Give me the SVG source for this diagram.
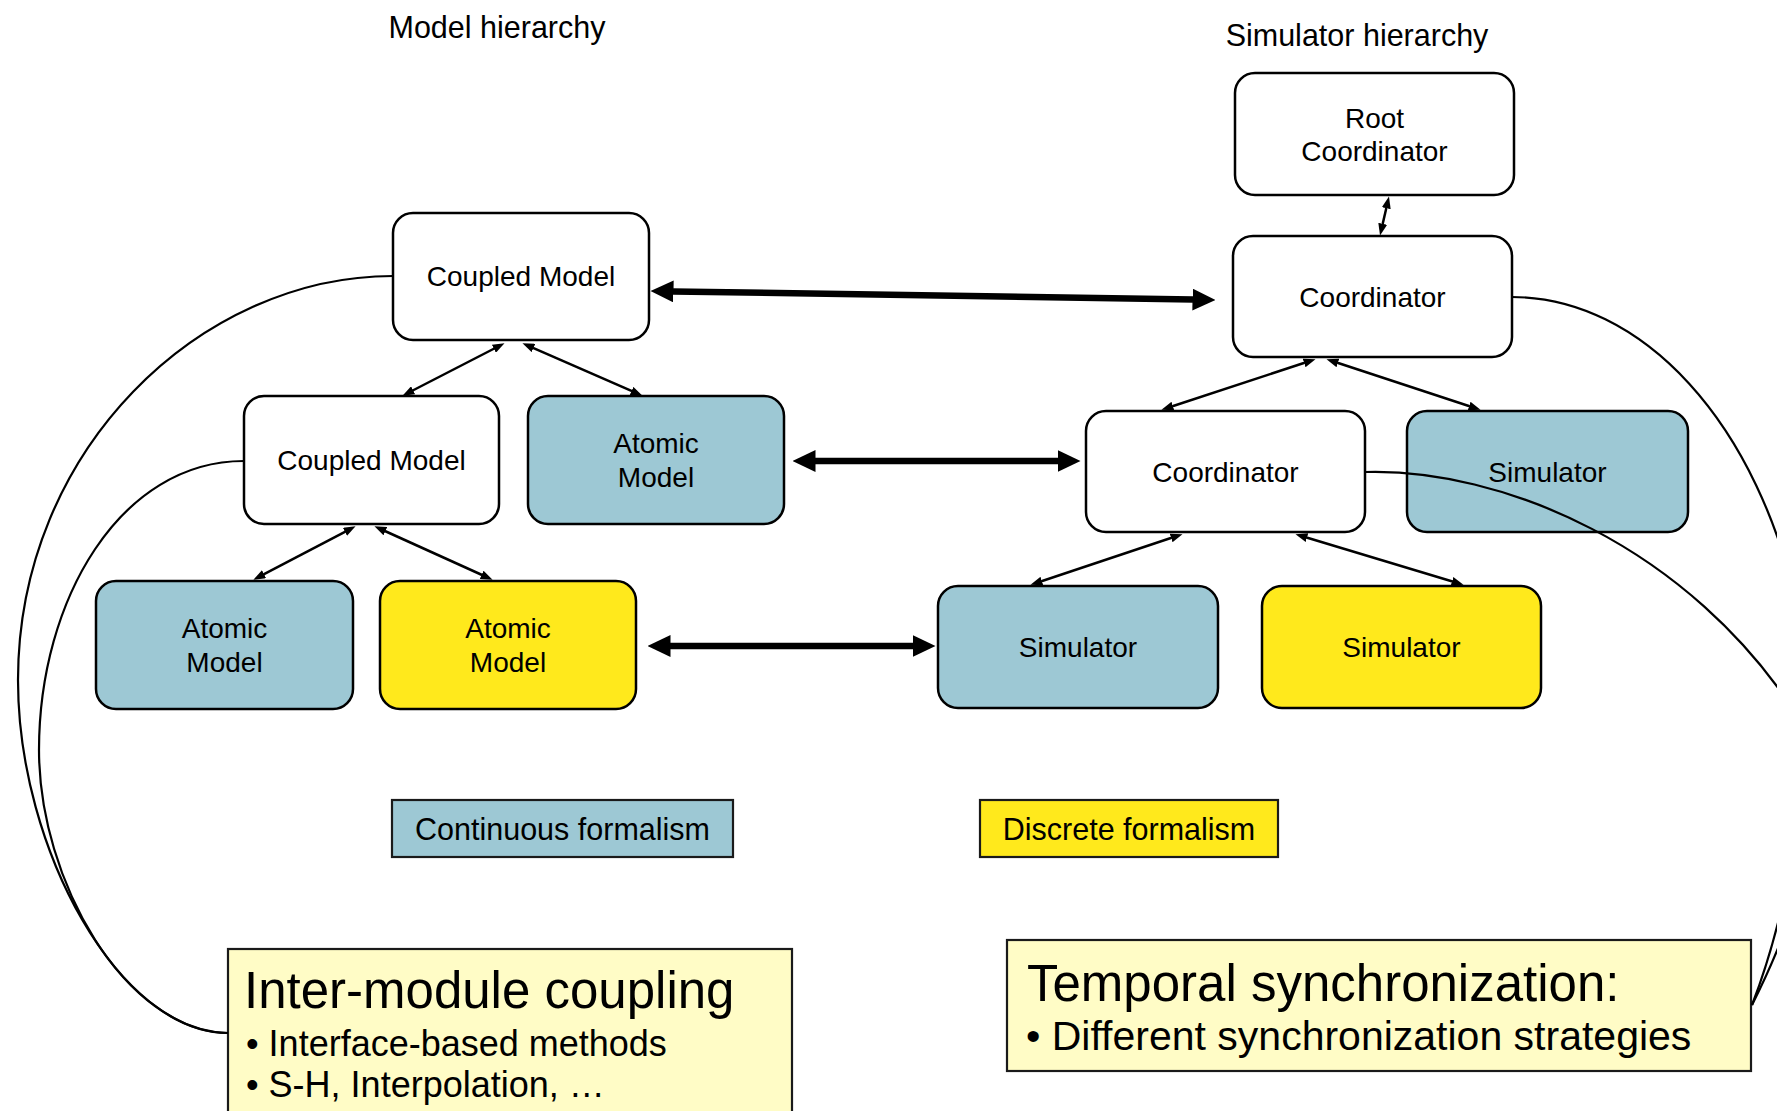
<svg xmlns="http://www.w3.org/2000/svg" width="1777" height="1111" viewBox="0 0 1777 1111">
<style>
text{font-family:"Liberation Sans",Arial,sans-serif;fill:#000}
.n{fill:#fff;stroke:#000;stroke-width:2.5}
.b{fill:#9dc8d4;stroke:#000;stroke-width:2.5}
.y{fill:#ffe91c;stroke:#000;stroke-width:2.5}
.lg{stroke:#1a1a1a;stroke-width:2.2}
.t{font-size:28px;text-anchor:middle}
.h{font-size:30.5px;text-anchor:middle}
.thick{stroke:#000;stroke-width:6.5;fill:none;marker-start:url(#ah);marker-end:url(#ah)}
.thin{stroke:#000;stroke-width:2.5;fill:none;marker-start:url(#as);marker-end:url(#as)}
.crv{stroke:#000;stroke-width:2.2;fill:none}
</style>
<defs>
<marker id="ah" viewBox="0 0 23 22" markerWidth="23" markerHeight="22" refX="0.5" refY="11" orient="auto-start-reverse" markerUnits="userSpaceOnUse"><path d="M0,0 L23,11 L0,22 z" fill="#000"/></marker>
<marker id="as" viewBox="0 0 12 9" markerWidth="12" markerHeight="9" refX="0.5" refY="4.5" orient="auto-start-reverse" markerUnits="userSpaceOnUse"><path d="M0,0 L12,4.5 L0,9 z" fill="#000"/></marker>
</defs>
<rect width="1777" height="1111" fill="#fff"/>

<text class="h" x="497" y="38">Model hierarchy</text>
<text class="h" x="1357" y="46">Simulator hierarchy</text>

<g id="coupled-top"><rect class="n" x="393" y="213" width="256" height="127" rx="20"/><text class="t" x="521" y="286">Coupled Model</text></g>
<g id="coupled-2"><rect class="n" x="244" y="396" width="255" height="128" rx="20"/><text class="t" x="371.5" y="470">Coupled Model</text></g>
<g id="atomic-1"><rect class="b" x="528" y="396" width="256" height="128" rx="20"/><text class="t" x="656" y="453">Atomic</text><text class="t" x="656" y="487">Model</text></g>
<g id="atomic-2"><rect class="b" x="96" y="581" width="257" height="128" rx="20"/><text class="t" x="224.5" y="638">Atomic</text><text class="t" x="224.5" y="672">Model</text></g>
<g id="atomic-3"><rect class="y" x="380" y="581" width="256" height="128" rx="20"/><text class="t" x="508" y="638">Atomic</text><text class="t" x="508" y="672">Model</text></g>

<g id="root-coordinator"><rect class="n" x="1235" y="73" width="279" height="122" rx="20"/><text class="t" x="1374.5" y="128">Root</text><text class="t" x="1374.5" y="161">Coordinator</text></g>
<g id="coordinator-1"><rect class="n" x="1233" y="236" width="279" height="121" rx="20"/><text class="t" x="1372.5" y="306.5">Coordinator</text></g>
<g id="coordinator-2"><rect class="n" x="1086" y="411" width="279" height="121" rx="20"/><text class="t" x="1225.5" y="482">Coordinator</text></g>
<g id="simulator-1"><rect class="b" x="1407" y="411" width="281" height="121" rx="20"/><text class="t" x="1547.5" y="482">Simulator</text></g>
<g id="simulator-2"><rect class="b" x="938" y="586" width="280" height="122" rx="20"/><text class="t" x="1078" y="657">Simulator</text></g>
<g id="simulator-3"><rect class="y" x="1262" y="586" width="279" height="122" rx="20"/><text class="t" x="1401.5" y="657">Simulator</text></g>

<g id="legend-continuous"><rect class="lg" x="392" y="800" width="341" height="57" fill="#9dc8d4"/><text x="562.5" y="840" font-size="30.5" text-anchor="middle">Continuous formalism</text></g>
<g id="legend-discrete"><rect class="lg" x="980" y="800" width="298" height="57" fill="#ffe91c"/><text x="1129" y="840" font-size="30.5" text-anchor="middle">Discrete formalism</text></g>

<g id="note-coupling"><rect class="lg" x="228" y="949" width="564" height="175" fill="#fffcc6"/>
<text x="244" y="1008" font-size="51">Inter-module coupling</text>
<text x="246" y="1056" font-size="36">• Interface-based methods</text>
<text x="246" y="1097" font-size="36">• S-H, Interpolation, …</text></g>
<g id="note-sync"><rect class="lg" x="1007" y="940" width="744" height="131" fill="#fffcc6"/>
<text x="1027" y="1001" font-size="51">Temporal synchronization:</text>
<text x="1026" y="1050" font-size="41">• Different synchronization strategies</text></g>

<g id="connectors">
<line class="thick" x1="673" y1="291.4" x2="1193" y2="299.6"/>
<line class="thick" x1="815" y1="461" x2="1058" y2="461"/>
<line class="thick" x1="670" y1="646" x2="913" y2="646"/>
<line class="thin" x1="494.3" y1="348.5" x2="412.7" y2="390.5"/>
<line class="thin" x1="533" y1="347.8" x2="632" y2="391.2"/>
<line class="thin" x1="345.4" y1="531.6" x2="263.6" y2="574.4"/>
<line class="thin" x1="384.9" y1="531" x2="482.1" y2="575"/>
<line class="thin" x1="1304.6" y1="362.8" x2="1172.4" y2="406.2"/>
<line class="thin" x1="1337.4" y1="362.8" x2="1469.6" y2="406.2"/>
<line class="thin" x1="1171.6" y1="537.8" x2="1041.4" y2="581.2"/>
<line class="thin" x1="1306.5" y1="537.5" x2="1452.5" y2="581.5"/>
<line class="thin" x1="1386.4" y1="207.7" x2="1382.6" y2="224.3" stroke-width="2"/>
<path class="crv" d="M393,276 C200,276 18,450 18,680 C18,850 120,1033 228,1033"/>
<path class="crv" d="M244,461 C120,461 39,600 39,750 C39,880 125,1031 228,1033"/>
<path class="crv" d="M1512,297 C1640,297 1760,420 1800,620 C1815,720 1800,880 1752,1005"/>
<path class="crv" d="M1365,472 C1500,468 1690,545 1800,720 C1830,800 1805,900 1752,1005"/>
</g>
</svg>
